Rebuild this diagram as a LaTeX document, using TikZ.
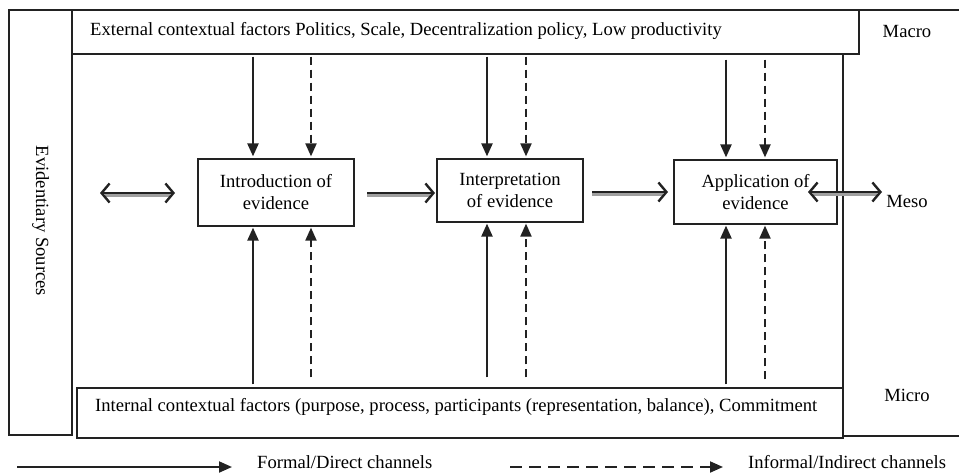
\documentclass[tikz,border=0pt]{standalone}
\usepackage{fontspec}
\setmainfont{Liberation Serif}
\usetikzlibrary{arrows.meta}
\definecolor{ln}{HTML}{222222}
\definecolor{shd}{HTML}{A0A0A0}
\tikzset{
  every node/.style={font=\fontsize{18.6}{22}\selectfont, text=black},
  boxn/.style={draw=ln, line width=1.2pt, inner sep=0pt},
  lbl/.style={inner sep=0pt, anchor=west},
  solidarr/.style={draw=ln, line width=2.2pt, -{Triangle[length=13pt,width=11pt]}},
  dasharr/.style={draw=ln, line width=2pt, dash pattern=on 8pt off 5pt, -{Triangle[length=13pt,width=11pt]}},
  barbmain/.style={draw=ln, line width=2.4pt, {Straight Barb[length=8pt,width=19pt,line width=2.4pt]}-{Straight Barb[length=8pt,width=19pt,line width=2.4pt]}},
  barbfwd/.style={draw=ln, line width=2.4pt, -{Straight Barb[length=8pt,width=19pt,line width=2.4pt]}},
  barbshadow/.style={draw=shd, line width=2.6pt},
}
\begin{document}
\begin{tikzpicture}[x=1pt,y=-1pt]
\useasboundingbox (0,0) rectangle (959,474);

% frame boxes
\node[boxn, minimum width=63pt, minimum height=425pt] (ev) at (40.5,222.5) {};
\node[rotate=-90, inner sep=0pt] (evt) at (40.5,221) {Evidentiary Sources};
\node[boxn, fill=white, minimum width=787pt, minimum height=44pt] (ext) at (465.5,32) {};
\node[lbl] (extt) at (90,31) {External contextual factors Politics, Scale, Decentralization policy, Low productivity};
\node[boxn, minimum width=766pt, minimum height=50pt] (int) at (460,413) {};
\node[lbl] (intt) at (95,407) {Internal contextual factors (purpose, process, participants (representation, balance), Commitment};

% right column
\coordinate (rc1) at (859,10);
\coordinate (rc2) at (960,10);
\coordinate (rc3) at (843,54);
\coordinate (rc4) at (843,436);
\coordinate (rc5) at (960,436);
\draw[ln, line width=1.2pt] (rc1) -- (rc2);
\draw[ln, line width=1.2pt] (rc3) -- (rc4) -- (rc5);
\node (macro) at (907,31) {Macro};
\node (meso) at (907,201) {Meso};
\node (micro) at (907,395) {Micro};

% process boxes
\node[boxn, minimum width=156pt, minimum height=67pt, align=center] (intro) at (276,192.5) {Introduction of\\evidence};
\node[boxn, minimum width=146pt, minimum height=63pt, align=center] (interp) at (510,190.5) {Interpretation\\of evidence};
\node[boxn, minimum width=163pt, minimum height=64pt, align=center] (app) at (755.5,192) {Application of\\evidence};

% vertical arrow x positions
\coordinate (a1) at (253,0);
\coordinate (a2) at (311,0);
\coordinate (b1) at (487,0);
\coordinate (b2) at (526,0);
\coordinate (c1) at (726,0);
\coordinate (c2) at (765,0);

% top arrows
\draw[solidarr] ([yshift=-2pt]a1 |- ext.south) -- ([yshift=2pt]a1 |- intro.north);
\draw[dasharr] ([yshift=-2pt]a2 |- ext.south) -- ([yshift=2pt]a2 |- intro.north);
\draw[solidarr] ([yshift=-2pt]b1 |- ext.south) -- ([yshift=2pt]b1 |- interp.north);
\draw[dasharr] ([yshift=-2pt]b2 |- ext.south) -- ([yshift=2pt]b2 |- interp.north);
\draw[solidarr] ([yshift=-5pt]c1 |- ext.south) -- ([yshift=2pt]c1 |- app.north);
\draw[dasharr] ([yshift=-5pt]c2 |- ext.south) -- ([yshift=2pt]c2 |- app.north);

% bottom arrows
\draw[solidarr] ([yshift=3pt]a1 |- int.north) -- ([yshift=-1pt]a1 |- intro.south);
\draw[dasharr] ([yshift=10pt]a2 |- int.north) -- ([yshift=-1pt]a2 |- intro.south);
\draw[solidarr] ([yshift=10pt]b1 |- int.north) -- ([yshift=-1pt]b1 |- interp.south);
\draw[dasharr] ([yshift=10pt]b2 |- int.north) -- ([yshift=-1pt]b2 |- interp.south);
\draw[solidarr] ([yshift=3pt]c1 |- int.north) -- ([yshift=-1pt]c1 |- app.south);
\draw[dasharr] ([yshift=8pt]c2 |- int.north) -- ([yshift=-1pt]c2 |- app.south);

% horizontal hollow arrows
\coordinate (h1) at (100,193);
\coordinate (h2) at (175,193);
\coordinate (h3) at (367,193);
\coordinate (h4) at (435,193);
\coordinate (h5) at (592,192);
\coordinate (h6) at (668,192);
\coordinate (h7) at (808,192);
\coordinate (h8) at (882,192);
\draw[barbshadow] ([xshift=5pt,yshift=-2.6pt]h1) -- ([xshift=-5pt,yshift=-2.6pt]h2);
\draw[barbmain] (h1) -- (h2);
\draw[barbshadow] ([yshift=-2.6pt]h3) -- ([xshift=-5pt,yshift=-2.6pt]h4);
\draw[barbfwd] (h3) -- (h4);
\draw[barbshadow] ([yshift=-2.6pt]h5) -- ([xshift=-5pt,yshift=-2.6pt]h6);
\draw[barbfwd] (h5) -- (h6);
\draw[barbshadow] ([xshift=5pt,yshift=-2.6pt]h7) -- ([xshift=-5pt,yshift=-2.6pt]h8);
\draw[barbmain] (h7) -- (h8);

% legend
\coordinate (l1) at (17,467);
\coordinate (l2) at (232,467);
\coordinate (l3) at (510,467);
\coordinate (l4) at (723,467);
\draw[draw=ln, line width=2pt, -{Triangle[length=13pt,width=11pt]}] (l1) -- (l2);
\draw[draw=ln, line width=2pt, dash pattern=on 12pt off 7pt, -{Triangle[length=13pt,width=11pt]}] (l3) -- (l4);
\node[lbl] (lt1) at (257,462) {Formal/Direct channels};
\node[lbl] (lt2) at (748,462) {Informal/Indirect channels};
\end{tikzpicture}
\end{document}
